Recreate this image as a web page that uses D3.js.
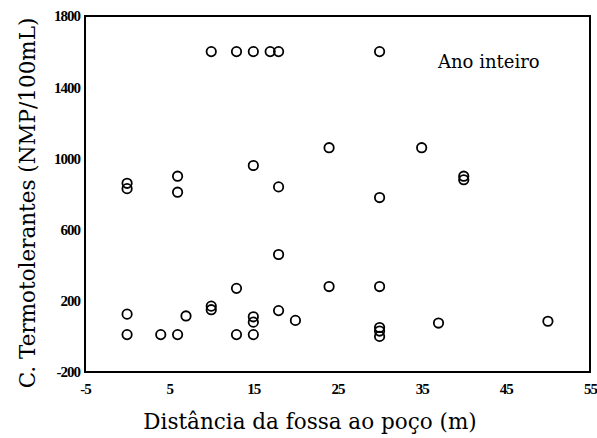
<!DOCTYPE html>
<html><head><meta charset="utf-8">
<script src="https://cdn.jsdelivr.net/npm/d3@7"></script>
<style>body{margin:0;background:#fff}svg{display:block}</style>
</head><body>
<script>
const xValues = [0,0,6,6,10,13,15,17,18,30,15,18,24,35,40,40,30,
                 0,0,4,6,7,10,10,13,13,15,15,15,18,18,20,24,30,30,30,30,37,50];
const yValues = [860,830,900,810,1600,1600,1600,1600,1600,1600,960,840,1060,1060,900,880,780,
                 125,10,10,10,115,170,150,270,10,110,80,10,460,145,90,280,280,50,30,0,75,85];
const xTicks = [-5,5,15,25,35,45,55];
const yTicks = [-200,200,600,1000,1400,1800];
const xTitle = "Distância da fossa ao poço (m)";
const yTitle = "C. Termotolerantes (NMP/100mL)";
const label = "Ano inteiro";

const W = 597, H = 438;
const m = {l:85, t:16, r:590, b:372};
const svg = d3.select("body").append("svg").attr("width",W).attr("height",H);
const x = d3.scaleLinear().domain([-5,55]).range([m.l,m.r]);
const y = d3.scaleLinear().domain([-200,1800]).range([m.b,m.t]);

// frame
svg.append("rect").attr("x",m.l).attr("y",m.t).attr("width",m.r-m.l).attr("height",m.b-m.t)
  .attr("fill","none").attr("stroke","#000").attr("stroke-width",2);

// axes (labels only)
const font = "Liberation Serif";
const fmt = d => String(d);
const xa = svg.append("g").attr("transform",`translate(0,${m.b})`)
  .call(d3.axisBottom(x).tickValues(xTicks).tickSize(0).tickPadding(11).tickFormat(fmt));
xa.select(".domain").remove();
xa.attr("font-family",font).attr("font-size",15).attr("font-weight","bold");
xa.selectAll("text").attr("fill","#000").attr("letter-spacing",-1);
const ya = svg.append("g").attr("transform",`translate(${m.l},0)`)
  .call(d3.axisLeft(y).tickValues(yTicks).tickSize(0).tickPadding(5).tickFormat(fmt));
ya.select(".domain").remove();
ya.attr("font-family",font).attr("font-size",15).attr("font-weight","bold");
ya.selectAll("text").attr("fill","#000").attr("letter-spacing",-1);

// points
svg.append("g").selectAll("circle").data(xValues.map((v,i)=>[v,yValues[i]])).join("circle")
  .attr("cx",d=>x(d[0])).attr("cy",d=>y(d[1])).attr("r",4.7)
  .attr("fill","none").attr("stroke","#000").attr("stroke-width",1.8);

// titles
svg.append("text").attr("x",310).attr("y",429).attr("text-anchor","middle")
  .attr("font-family","DejaVu Serif").attr("font-size",21.5).attr("fill","#000").text(xTitle);
svg.append("text").attr("transform","translate(35,203) rotate(-90)").attr("text-anchor","middle")
  .attr("font-family","DejaVu Serif").attr("font-size",21.5).attr("fill","#000").text(yTitle);
svg.append("text").attr("x",438).attr("y",68)
  .attr("font-family","DejaVu Serif").attr("font-size",18).attr("fill","#000").text(label);
</script>
</body></html>
